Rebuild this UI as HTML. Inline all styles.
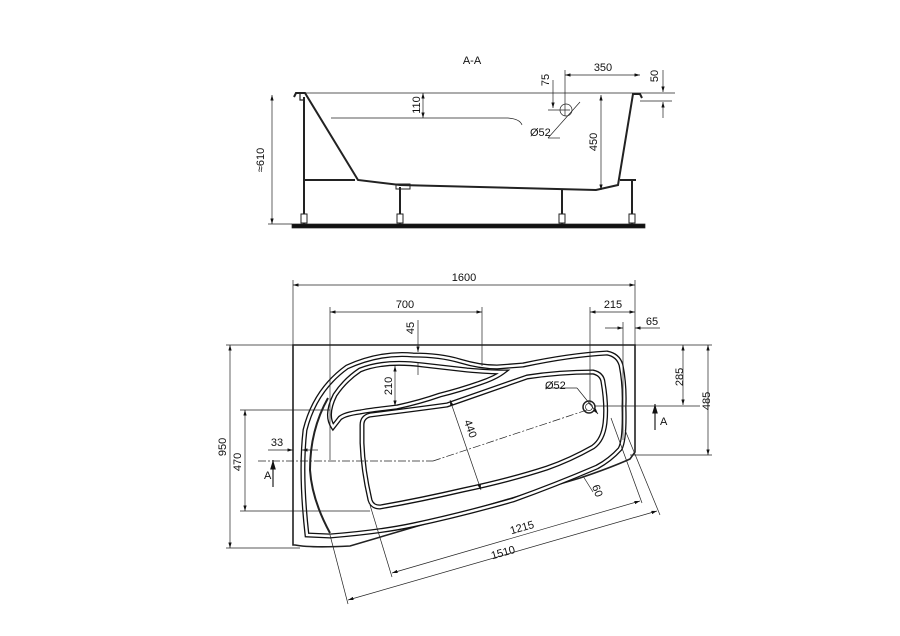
<!DOCTYPE html>
<html><head><meta charset="utf-8"><style>
html,body{margin:0;padding:0;background:#fff;}
svg{display:block;font-family:"Liberation Sans",sans-serif;}
text{font-size:11px;fill:#111;}
</style></head><body>
<svg width="900" height="636" viewBox="0 0 900 636" xmlns="http://www.w3.org/2000/svg">
<defs>
<marker id="a" viewBox="0 0 10 6" refX="10" refY="3" markerWidth="8" markerHeight="5" orient="auto-start-reverse"><path d="M0,0L10,3L0,6z" fill="#111"/></marker>
</defs>
<g stroke="#222" fill="none" stroke-width="0.7">
<!-- ===== TOP SECTION ===== -->
<line x1="295" y1="93" x2="675" y2="93"/>
<path d="M294,97 L296,93 L305,93 L358,180 L400,185 L596,190 L618,185 L633,94 L640,94 L642,98" stroke-width="2"/>
<path d="M300,93 L300,100 L305,100" stroke-width="1.2"/>
<rect x="292" y="224" width="353" height="4" fill="#111"/>
<g stroke-width="2"><line x1="304" y1="97" x2="304" y2="224"/><line x1="400" y1="187" x2="400" y2="224"/><line x1="562" y1="190" x2="562" y2="224"/><line x1="632" y1="180" x2="632" y2="224"/></g>
<g stroke-width="1" fill="#fff"><rect x="301" y="214" width="6" height="9"/><rect x="397" y="214" width="6" height="9"/><rect x="559" y="214" width="6" height="9"/><rect x="629" y="214" width="6" height="9"/></g>
<line x1="305" y1="180" x2="355" y2="180" stroke-width="2"/>
<line x1="620" y1="180" x2="636" y2="180" stroke-width="2"/>
<rect x="396" y="184" width="14" height="5" stroke-width="1"/>
<line x1="272" y1="95" x2="272" y2="224" marker-start="url(#a)" marker-end="url(#a)"/>
<line x1="268" y1="224" x2="292" y2="224"/>
<line x1="423" y1="93" x2="423" y2="118" marker-start="url(#a)" marker-end="url(#a)"/>
<path d="M331,118 L508,118 Q520,119 522,125"/>
<circle cx="566" cy="110" r="6"/>
<line x1="548" y1="138" x2="580" y2="102"/>
<line x1="560" y1="138" x2="548" y2="138"/>
<line x1="553" y1="80" x2="553" y2="108" marker-end="url(#a)"/>
<line x1="548" y1="110" x2="570" y2="110"/>
<line x1="565" y1="70" x2="565" y2="116"/>
<line x1="565" y1="75" x2="640" y2="75" marker-start="url(#a)" marker-end="url(#a)"/>
<line x1="663" y1="70" x2="663" y2="92" marker-end="url(#a)"/>
<line x1="663" y1="102" x2="663" y2="118" marker-start="url(#a)"/>
<line x1="640" y1="101" x2="672" y2="101"/>
<line x1="601" y1="95" x2="601" y2="190" marker-start="url(#a)" marker-end="url(#a)"/>

<!-- ===== PLAN VIEW ===== -->
<path d="M293,345 L635,345 L635,452 L630,459 Q610,468 580,478 L350,546 Q310,548 295,545 L293,545 Z" stroke-width="1.6"/>
<g stroke="#111" stroke-width="5">
<path id="r1" d="M330,536 L307,535 Q300,473 305,430 Q315,390 347,367 Q380,352 413,355 Q440,355 460,361 Q480,367 497,367 Q510,366 523,365 Q570,355 607,353 Q618,355 621,365 Q625,385 624,407 Q625,440 620,449 Q610,460 597,467 Q555,485 513,500 Q460,515 413,525 Q380,532 330,536 Z"/>
<path d="M333,427 Q325,415 335,395 Q345,380 360,370 Q385,360 423,365 Q450,368 467,370 Q490,372 503,372 Q495,378 480,383 Q460,390 440,395 Q420,402 397,407 Q370,410 360,412 Q345,414 340,418 Z"/>
<path d="M362,425 Q362,417 370,415 Q410,410 447,405 Q490,390 527,377 Q560,372 593,372 Q602,374 603,382 Q607,405 605,423 Q603,440 593,447 Q570,460 547,468 Q510,480 463,490 Q420,500 380,507 Q372,507 370,500 Q363,470 362,443 Z"/>
</g>
<g stroke="#fff" stroke-width="2.4">
<use href="#r1"/>
<path d="M333,427 Q325,415 335,395 Q345,380 360,370 Q385,360 423,365 Q450,368 467,370 Q490,372 503,372 Q495,378 480,383 Q460,390 440,395 Q420,402 397,407 Q370,410 360,412 Q345,414 340,418 Z"/>
<path d="M362,425 Q362,417 370,415 Q410,410 447,405 Q490,390 527,377 Q560,372 593,372 Q602,374 603,382 Q607,405 605,423 Q603,440 593,447 Q570,460 547,468 Q510,480 463,490 Q420,500 380,507 Q372,507 370,500 Q363,470 362,443 Z"/>
</g>
<path d="M330,533 Q312,500 310,470 Q310,430 328,398" stroke-width="2"/>
<circle cx="589" cy="407" r="6" stroke-width="1.5"/><circle cx="589" cy="407" r="3.5"/>
<!-- dims -->
<line x1="293" y1="285" x2="635" y2="285" marker-start="url(#a)" marker-end="url(#a)"/>
<line x1="293" y1="280" x2="293" y2="345"/><line x1="635" y1="280" x2="635" y2="345"/>
<line x1="330" y1="312" x2="482" y2="312" marker-start="url(#a)" marker-end="url(#a)"/>
<line x1="330" y1="307" x2="330" y2="460"/><line x1="482" y1="307" x2="482" y2="366"/>
<line x1="418" y1="320" x2="418" y2="352" marker-end="url(#a)"/>
<line x1="418" y1="362" x2="418" y2="375"/>
<line x1="590" y1="312" x2="635" y2="312" marker-start="url(#a)" marker-end="url(#a)"/>
<line x1="590" y1="307" x2="590" y2="405"/>
<line x1="605" y1="328" x2="623" y2="328" marker-end="url(#a)"/>
<line x1="635" y1="328" x2="660" y2="328" marker-start="url(#a)"/>
<line x1="623" y1="322" x2="623" y2="440"/>
<line x1="230" y1="345" x2="230" y2="548" marker-start="url(#a)" marker-end="url(#a)"/>
<line x1="226" y1="345" x2="293" y2="345"/><line x1="226" y1="548" x2="300" y2="548"/>
<line x1="245" y1="410" x2="245" y2="511" marker-start="url(#a)" marker-end="url(#a)"/>
<line x1="240" y1="410" x2="330" y2="410"/><line x1="240" y1="511" x2="370" y2="511"/>
<line x1="268" y1="450" x2="293" y2="450" marker-end="url(#a)"/>
<line x1="302" y1="450" x2="318" y2="450" marker-start="url(#a)"/>
<line x1="273" y1="487" x2="273" y2="460" stroke-width="1.2" marker-end="url(#a)"/>
<line x1="683" y1="345" x2="683" y2="405" marker-start="url(#a)" marker-end="url(#a)"/>
<line x1="635" y1="345" x2="712" y2="345"/>
<line x1="595" y1="406" x2="700" y2="406"/>
<line x1="708" y1="345" x2="708" y2="455" marker-start="url(#a)" marker-end="url(#a)"/>
<line x1="630" y1="455" x2="712" y2="455"/>
<line x1="655" y1="430" x2="655" y2="404" stroke-width="1.2" marker-end="url(#a)"/>
<line x1="545" y1="388" x2="577" y2="388"/>
<line x1="577" y1="388" x2="598" y2="414" marker-end="url(#a)"/>
<line x1="450" y1="400" x2="481" y2="490" marker-start="url(#a)" marker-end="url(#a)"/>
<line x1="395" y1="366" x2="395" y2="406" marker-start="url(#a)" marker-end="url(#a)"/>
<line x1="583" y1="476" x2="593" y2="492"/>
<line x1="258" y1="461" x2="433" y2="461" stroke-dasharray="8,2,2,2"/>
<line x1="433" y1="461" x2="587" y2="410" stroke-dasharray="8,2,2,2"/>
<line x1="392" y1="573" x2="640" y2="501" marker-start="url(#a)" marker-end="url(#a)"/>
<line x1="348" y1="600" x2="657" y2="511" marker-start="url(#a)" marker-end="url(#a)"/>
<line x1="370" y1="505" x2="392" y2="577"/><line x1="330" y1="535" x2="348" y2="604"/>
<line x1="611" y1="418" x2="642" y2="503"/><line x1="625" y1="430" x2="660" y2="515"/>
</g>
<g>
<text x="472" y="64" text-anchor="middle" font-size="12">A-A</text>
<text x="603" y="71" text-anchor="middle">350</text>
<text x="530" y="136">Ø52</text>
<text transform="translate(264,160) rotate(-90)" text-anchor="middle">≈610</text>
<text transform="translate(420,105) rotate(-90)" text-anchor="middle">110</text>
<text transform="translate(549,80) rotate(-90)" text-anchor="middle">75</text>
<text transform="translate(658,76) rotate(-90)" text-anchor="middle">50</text>
<text transform="translate(597,142) rotate(-90)" text-anchor="middle">450</text>
<text x="464" y="281" text-anchor="middle">1600</text>
<text x="405" y="308" text-anchor="middle">700</text>
<text x="613" y="308" text-anchor="middle">215</text>
<text x="652" y="325" text-anchor="middle">65</text>
<text transform="translate(414,328) rotate(-90)" text-anchor="middle">45</text>
<text transform="translate(226,447) rotate(-90)" text-anchor="middle">950</text>
<text transform="translate(241,462) rotate(-90)" text-anchor="middle">470</text>
<text x="277" y="446" text-anchor="middle">33</text>
<text x="264" y="479" font-size="12">A</text>
<text transform="translate(683,377) rotate(-90)" text-anchor="middle">285</text>
<text transform="translate(710,401) rotate(-90)" text-anchor="middle">485</text>
<text x="660" y="425" font-size="12">A</text>
<text x="545" y="389">Ø52</text>
<text transform="translate(467,430) rotate(70)" text-anchor="middle">440</text>
<text transform="translate(392,386) rotate(-90)" text-anchor="middle">210</text>
<text transform="translate(594,492) rotate(70)" text-anchor="middle">60</text>
<text transform="translate(523,531) rotate(-16)" text-anchor="middle">1215</text>
<text transform="translate(504,556) rotate(-16)" text-anchor="middle">1510</text>
</g>
</svg>
</body></html>
